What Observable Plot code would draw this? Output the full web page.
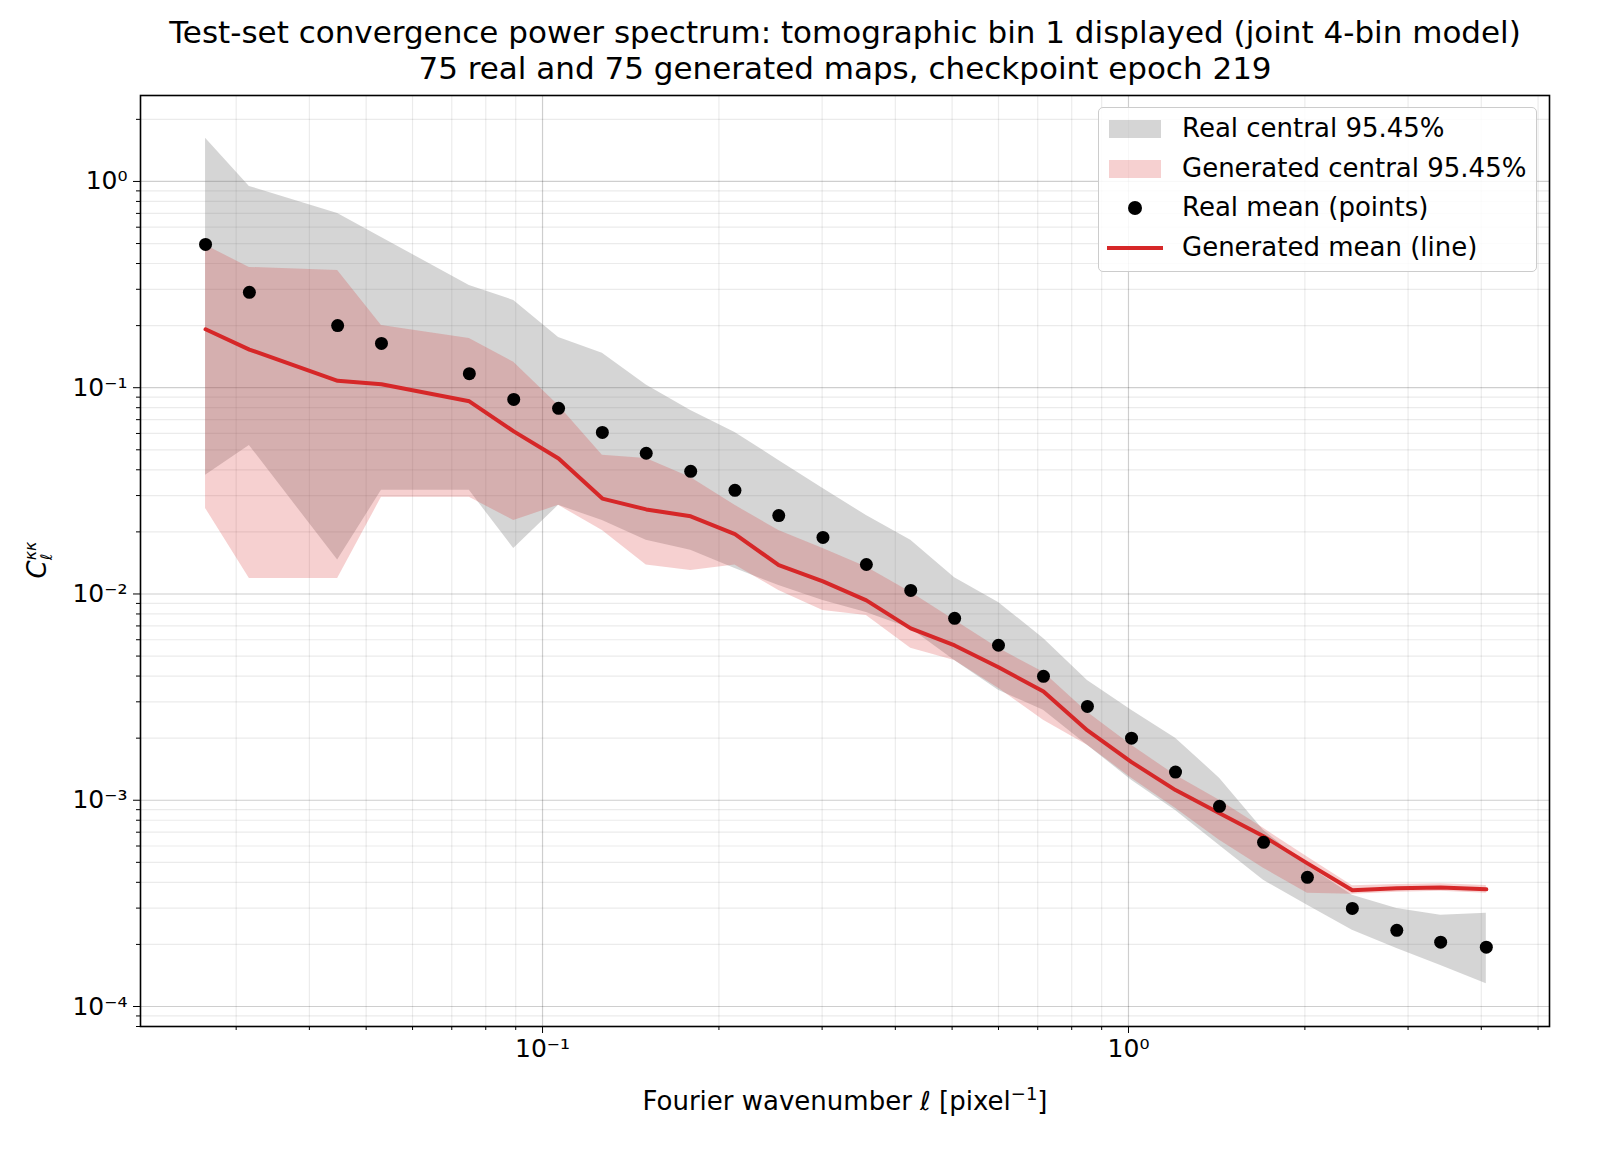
<!DOCTYPE html>
<html><head><meta charset="utf-8">
<script src="https://cdn.jsdelivr.net/npm/d3@7"></script>
<script src="https://cdn.jsdelivr.net/npm/@observablehq/plot@0.6"></script>
<style>
body{margin:0;background:#fff;font-family:"DejaVu Sans",sans-serif;}
#wrap{position:relative;width:1600px;height:1159px;}
.t{position:absolute;color:#000;white-space:nowrap;}
</style></head><body><div id="wrap"></div>
<script>
const ell=[0.0266,0.0316,0.0447,0.0531,0.0750,0.0893,0.1065,0.1265,0.1503,0.179,0.213,0.253,0.301,0.357,0.425,0.505,0.600,0.716,0.851,1.012,1.203,1.43,1.70,2.02,2.41,2.87,3.41,4.08];
const realMean=[0.495,0.290,0.200,0.164,0.117,0.0877,0.0794,0.0607,0.0481,0.0393,0.0318,0.0240,0.0188,0.0139,0.0104,0.00762,0.00564,0.00399,0.00285,0.00200,0.00137,0.000934,0.000625,0.000423,0.000299,0.000234,0.000205,0.000194];
const genMean=[0.192,0.153,0.108,0.104,0.0859,0.0614,0.0454,0.0290,0.0257,0.0238,0.0195,0.0138,0.0115,0.00931,0.00681,0.00563,0.00441,0.00337,0.00218,0.00153,0.00112,0.000865,0.000669,0.000494,0.000366,0.000374,0.000378,0.000370];
const realHi=[1.62,0.946,0.700,0.535,0.313,0.265,0.175,0.147,0.103,0.0776,0.0607,0.0444,0.0325,0.0240,0.0182,0.0120,0.00910,0.00609,0.00381,0.00273,0.00200,0.00128,0.000715,0.000483,0.000346,0.000299,0.000277,0.000283];
const realLo=[0.0376,0.0525,0.0146,0.0318,0.0318,0.0166,0.0269,0.0227,0.0182,0.0163,0.0133,0.0110,0.00931,0.00814,0.00681,0.00476,0.00341,0.00273,0.00185,0.00125,0.000893,0.000604,0.000409,0.000310,0.000234,0.000191,0.000158,0.000129];
const genHi=[0.490,0.383,0.370,0.200,0.173,0.133,0.0820,0.0470,0.0454,0.0367,0.0269,0.0203,0.0166,0.0135,0.0102,0.00745,0.00545,0.00417,0.00267,0.00185,0.00132,0.00100,0.000731,0.000530,0.000385,0.000390,0.000394,0.000386];
const genLo=[0.0260,0.0119,0.0119,0.0294,0.0294,0.0227,0.0269,0.0203,0.0138,0.0130,0.0138,0.0104,0.00832,0.00787,0.00545,0.00476,0.00349,0.00244,0.00185,0.00128,0.000914,0.000640,0.000468,0.000354,0.000350,0.000358,0.000362,0.000354];
const title1="Test-set convergence power spectrum: tomographic bin 1 displayed (joint 4-bin model)";
const title2="75 real and 75 generated maps, checkpoint epoch 219";
const legendLabels=["Real central 95.45%","Generated central 95.45%","Real mean (points)","Generated mean (line)"];

const data=ell.map((x,i)=>({x,rm:realMean[i],gm:genMean[i],rh:realHi[i],rl:realLo[i],gh:genHi[i],gl:genLo[i]}));
const minorX=[],minorY=[];
for(let e=-2;e<=0;e++)for(let m=1;m<10;m++){const v=m*10**e;if(v>=0.0206&&v<=5.23)minorX.push(v);}
for(let e=-5;e<=0;e++)for(let m=1;m<10;m++){const v=m*10**e;if(v>=8e-5&&v<=2.61)minorY.push(v);}
const sup={"-":"⁻","0":"⁰","1":"¹","2":"²","3":"³","4":"⁴"};
const fmt=v=>{const e=Math.log10(v);if(Math.abs(e-Math.round(e))>1e-6)return "";return "10"+String(Math.round(e)).split("").map(c=>sup[c]).join("");};
const decX=[0.1,1],decY=[1e-4,1e-3,1e-2,1e-1,1];
const plot=Plot.plot({
  width:1600,height:1159,marginTop:95,marginLeft:140,marginRight:51,marginBottom:133,
  style:{fontFamily:"DejaVu Sans",fontSize:"24px",color:"#000",background:"#fff"},
  x:{type:"log",domain:[0.0206,5.23]},
  y:{type:"log",domain:[8e-5,2.61]},
  marks:[
    Plot.gridX(minorX,{stroke:"#000",strokeOpacity:0.08,strokeWidth:1.2}),
    Plot.gridY(minorY,{stroke:"#000",strokeOpacity:0.08,strokeWidth:1.2}),
    Plot.gridX(decX,{stroke:"#000",strokeOpacity:0.12,strokeWidth:1.2}),
    Plot.gridY(decY,{stroke:"#000",strokeOpacity:0.12,strokeWidth:1.2}),
    Plot.areaY(data,{x:"x",y1:"rl",y2:"rh",fill:"gray",fillOpacity:0.33}),
    Plot.areaY(data,{x:"x",y1:"gl",y2:"gh",fill:"#d62728",fillOpacity:0.22}),
    Plot.line(data,{x:"x",y:"gm",stroke:"#d62728",strokeWidth:4}),
    Plot.dot(data,{x:"x",y:"rm",r:6.5,fill:"#000"}),
    Plot.axisX(minorX.filter(v=>!decX.some(d=>Math.abs(d-v)<1e-9)),{tickSize:4,tickFormat:()=>"",label:null}),
    Plot.axisX(decX,{tickSize:7,tickPadding:6,tickFormat:fmt,label:null,fontSize:25}),
    Plot.axisY(minorY.filter(v=>!decY.some(d=>Math.abs(d-v)<1e-12)),{tickSize:4,tickFormat:()=>"",label:null}),
    Plot.axisY(decY,{tickSize:7,tickPadding:6,tickFormat:fmt,label:null,fontSize:25}),
    Plot.frame({stroke:"#000",strokeWidth:1.6})
  ]
});
const w=document.getElementById("wrap");
w.appendChild(plot);
plot.style.position="absolute";plot.style.left="0";plot.style.top="0";
function add(html,css){const d=document.createElement("div");d.className="t";d.innerHTML=html;Object.assign(d.style,css);w.appendChild(d);return d;}
add(title1,{left:"845px",top:"14px",transform:"translateX(-50%)",fontSize:"31px"});
add(title2,{left:"845px",top:"50px",transform:"translateX(-50%)",fontSize:"31px"});
add("Fourier wavenumber <i>ℓ</i> [pixel<sup style='font-size:18px'>−1</sup>]",{left:"845px",top:"1083px",transform:"translateX(-50%)",fontSize:"26px"});
add("<i>C</i><span style='display:inline-block;vertical-align:middle;line-height:0.95;font-size:16px;text-align:left'><i>κκ</i><br><i>ℓ</i></span>",{left:"38px",top:"560px",transform:"translate(-50%,-50%) rotate(-90deg)",fontSize:"26px"});
// legend
const lg=add("",{left:"1098px",top:"107px",width:"437px",height:"163px",border:"1.5px solid #ccc",borderRadius:"5px",background:"rgba(255,255,255,0.85)"});
const rows=[["patch","rgba(128,128,128,0.33)"],["patch","rgba(214,39,40,0.22)"],["dot","#000"],["line","#d62728"]];
rows.forEach((r,i)=>{
  const y=21+i*39.5;
  let sym;
  if(r[0]=="patch")sym=`<div style="position:absolute;left:10px;top:${y-9}px;width:52px;height:18px;background:${r[1]}"></div>`;
  else if(r[0]=="dot")sym=`<div style="position:absolute;left:29px;top:${y-7}px;width:14px;height:14px;border-radius:50%;background:#000"></div>`;
  else sym=`<div style="position:absolute;left:8px;top:${y-2}px;width:56px;height:4px;background:${r[1]}"></div>`;
  lg.insertAdjacentHTML("beforeend",sym+`<div style="position:absolute;left:83px;top:${y-16}px;font-size:26px">${legendLabels[i]}</div>`);
});
</script></body></html>
